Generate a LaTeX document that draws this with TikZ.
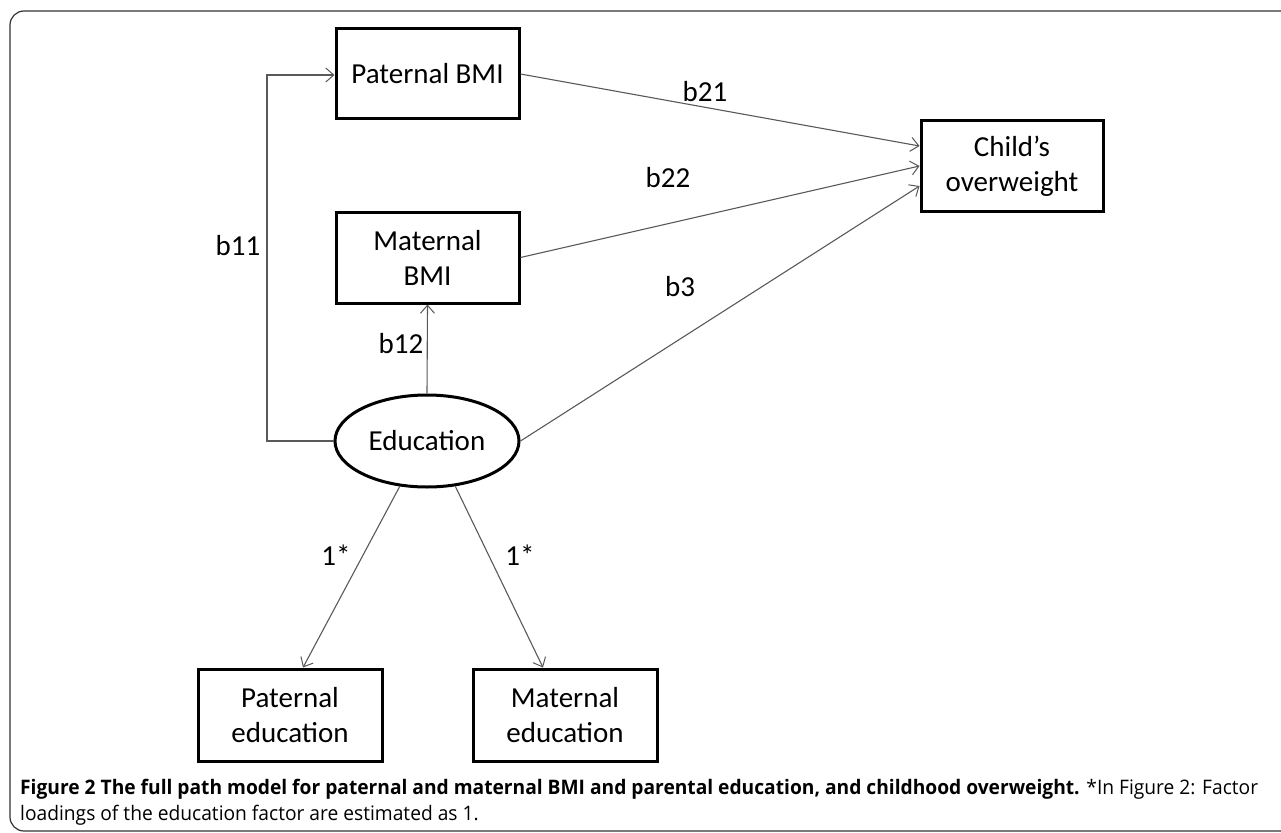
\documentclass[tikz,border=0pt]{standalone}
\usepackage{fontspec}
\setmainfont{Carlito}
\newfontfamily\capfont[FakeStretch=0.96]{Open Sans}
\usetikzlibrary{arrows.meta,shapes.geometric}
\begin{document}
\begin{tikzpicture}[x=1pt,y=-1pt,
  box/.style={draw=black,line width=3pt,rectangle,inner sep=0pt,align=center,font=\fontsize{29}{35}\selectfont},
  conn/.style={draw=black!65,line width=1.1pt,-{Straight Barb[length=8pt,width=14pt,line width=1pt]}},
  lab/.style={font=\fontsize{29}{35}\selectfont,inner sep=0pt}]
\useasboundingbox (0,0) rectangle (1281,832);
\draw[black!80,line width=1.2pt,rounded corners=14pt] (10,11) rectangle (1300,831);
% nodes
\node[box,minimum width=183pt,minimum height=90pt] (pbmi) at (427.5,74) {Paternal BMI};
\node[box,minimum width=183pt,minimum height=91pt] (mbmi) at (427.5,257.5) {Maternal\\BMI};
\node[box,minimum width=182pt,minimum height=90pt] (child) at (1012,166) {Child's\\overweight};
\node[ellipse,draw=black,line width=3pt,minimum width=184pt,minimum height=92pt,inner sep=0pt,font=\fontsize{29}{35}\selectfont] (edu) at (427,441) {Education};
\node[box,minimum width=184pt,minimum height=92pt] (pedu) at (290,715) {Paternal\\education};
\node[box,minimum width=184pt,minimum height=92pt] (medu) at (565,715) {Maternal\\education};
% connectors
\coordinate (c1) at (267,441);
\coordinate (c2) at (267,75);
\draw[conn] (edu.west) -- (c1) -- (c2) -- (pbmi.west |- c2);
\draw[conn] (edu.north) -- (mbmi.south);
\draw[conn] (pbmi.east) -- ([yshift=20pt]child.west);
\draw[conn] (mbmi.east) -- (child.west);
\draw[conn] (edu.east) -- ([yshift=-20pt]child.west);
\draw[conn] (edu.-121) -- ([xshift=13pt]pedu.north);
\draw[conn] (edu.-58) -- ([xshift=-22pt]medu.north);
% labels
\node[lab] (l21) at (705,92) {b21};
\node[lab] (l22) at (668,178) {b22};
\node[lab] (l3) at (680,287) {b3};
\node[lab] (l11) at (238,246) {b11};
\node[lab] (l12) at (401,344) {b12};
\node[lab] (ls1) at (336,555) {1*};
\node[lab] (ls2) at (520,555) {1*};
% caption
\node[anchor=base west,inner sep=0pt,font=\capfont\fontsize{20}{24}\selectfont] (cap1) at (20,794) {\textbf{Figure 2 The full path model for paternal and maternal BMI and parental education, and childhood overweight.} *In Figure 2: Factor};
\node[anchor=base west,inner sep=0pt,font=\capfont\fontsize{20}{24}\selectfont] (cap2) at (20,820) {loadings of the education factor are estimated as 1.};
\end{tikzpicture}
\end{document}
